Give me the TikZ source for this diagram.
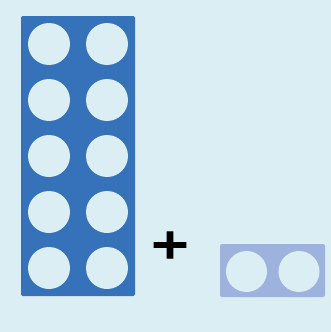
\documentclass[tikz,border=0pt]{standalone}
\usepackage{fontspec}
\usepackage{xcolor}
\newfontfamily\plusfont[FakeBold=2]{DejaVu Sans}
\definecolor{paleblue}{HTML}{DBEEF3}
\definecolor{tenblue}{HTML}{3572B9}
\definecolor{twoblue}{HTML}{9DB3DD}

\begin{document}
\begin{tikzpicture}[
  x=1pt, y=-1pt,
  frame/.style={rectangle, rounded corners=2pt, inner sep=0pt},
  hole/.style={circle, fill=paleblue, inner sep=0pt, minimum size=42pt}
]
\fill[paleblue] (0,0) rectangle (331,332);
\useasboundingbox (0,0) rectangle (331,332);

% ten frame
\node[frame, fill=tenblue, minimum width=114pt, minimum height=280pt] (ten) at (78,156) {};
\foreach \r in {0,...,4}
  \foreach \c in {0,1}
    \node[hole] (t-\r-\c) at (49+58*\c, 44+56*\r) {};

% plus sign
\node[inner sep=0pt, xscale=1.2, font=\plusfont\bfseries\fontsize{42}{42}\selectfont] (plus) at (170,245) {+};

% two frame
\node[frame, fill=twoblue, minimum width=105pt, minimum height=53pt] (two) at (272.5,270.5) {};
\node[hole, minimum size=41pt] (w-0) at (246.5,271.5) {};
\node[hole, minimum size=41pt] (w-1) at (299,271.5) {};
\end{tikzpicture}
\end{document}
